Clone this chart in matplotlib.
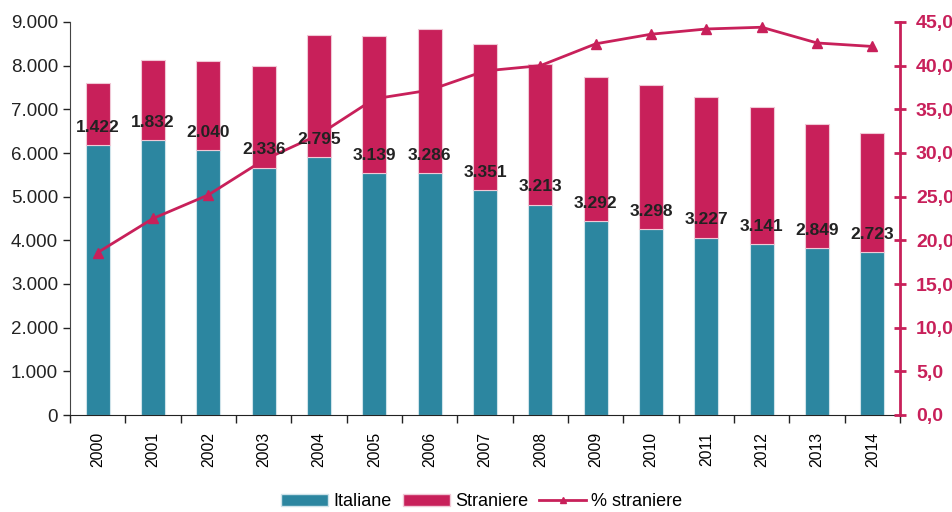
import matplotlib
matplotlib.use("Agg")
import matplotlib.pyplot as plt
from matplotlib.ticker import FuncFormatter, FixedLocator
from matplotlib.lines import Line2D
from matplotlib.patches import Patch

plt.rcParams['font.family'] = ['Liberation Sans', 'DejaVu Sans']

years = ["2000", "2001", "2002", "2003", "2004", "2005", "2006", "2007",
         "2008", "2009", "2010", "2011", "2012", "2013", "2014"]
italiane = [6185, 6300, 6060, 5665, 5910, 5540, 5545, 5145,
            4815, 4440, 4255, 4062, 3920, 3825, 3733]
straniere = [1422, 1832, 2040, 2336, 2795, 3139, 3286, 3351,
             3213, 3292, 3298, 3227, 3141, 2849, 2723]
perc_straniere = [18.6, 22.5, 25.2, 29.2, 32.1, 36.2, 37.2, 39.4,
                  40.0, 42.5, 43.6, 44.2, 44.4, 42.6, 42.2]

teal = "#2C86A0"
mag = "#C8205A"

fig = plt.figure(figsize=(9.53, 5.12), dpi=100)
ax = fig.add_axes([70/953, 1-415/512, 830/953, 393/512])
x = list(range(len(years)))
w = 0.43
ax.bar(x, italiane, w, color=teal, edgecolor="#cfe3ea", linewidth=0.8, zorder=2)
ax.bar(x, straniere, w, bottom=italiane, color=mag, edgecolor="#f0c8d6", linewidth=0.8, zorder=2)

ax.set_xlim(-0.5, len(years) - 0.5)
ax.set_ylim(0, 9000)
ax.set_yticks(range(0, 9001, 1000))
ax.yaxis.set_major_formatter(FuncFormatter(lambda v, p: f"{int(v):,}".replace(",", ".")))
ax.tick_params(axis='y', labelsize=13.5, length=5, width=1, colors="#222222", direction='out')
ax.set_xticks(x)
ax.set_xticklabels(years, rotation=90, fontsize=11.3)
ax.tick_params(axis='x', which='major', length=0, pad=12)
ax.xaxis.set_minor_locator(FixedLocator([i - 0.5 for i in range(len(years) + 1)]))
ax.tick_params(axis='x', which='minor', length=6, width=1, color="#222222")
for s in ['top', 'right']:
    ax.spines[s].set_visible(False)
ax.spines['left'].set_color("#444444")
ax.spines['bottom'].set_color("#222222")

ax2 = ax.twinx()
ax2.set_ylim(0, 45)
ax2.set_yticks([i * 5 for i in range(10)])
ax2.yaxis.set_major_formatter(FuncFormatter(lambda v, p: f"{v:.1f}".replace(".", ",")))
ax2.plot(x, perc_straniere, color=mag, linewidth=2, marker='^', markersize=7, zorder=3)
for s in ['top', 'left', 'bottom']:
    ax2.spines[s].set_visible(False)
ax2.spines['right'].set_color(mag)
ax2.spines['right'].set_linewidth(2)
ax2.tick_params(axis='y', colors=mag, direction='inout', length=9, width=2,
                labelsize=14, pad=7)
for lab in ax2.get_yticklabels():
    lab.set_fontweight('bold')

for xi, it, st in zip(x, italiane, straniere):
    ax2.annotate(f"{st:,}".replace(",", "."), xy=(xi, it * 45 / 9000), xytext=(0, 12.8),
                 textcoords='offset points', ha='center', va='center',
                 fontsize=12.5, fontweight='bold', color="#222222", zorder=5)

handles = [Patch(facecolor=teal, edgecolor="#cfe3ea"),
           Patch(facecolor=mag, edgecolor="#f0c8d6"),
           Line2D([0], [0], color=mag, linewidth=2, marker='^', markersize=5)]
fig.legend(handles, ["Italiane", "Straniere", "% straniere"], loc='center',
           bbox_to_anchor=(482/953, 1-502/512), ncol=3, frameon=False, fontsize=13,
           handlelength=2.6, handleheight=0.6, handletextpad=0.3, columnspacing=0.6)

fig.savefig("out.png", dpi=100)
